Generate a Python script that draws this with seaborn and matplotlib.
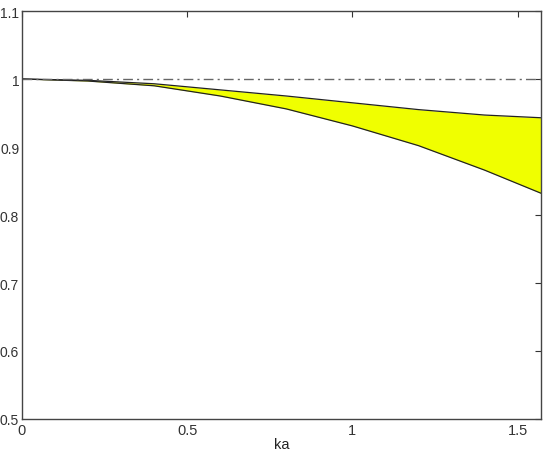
import numpy as np
import pandas as pd
import matplotlib
matplotlib.use("Agg")
import matplotlib.pyplot as plt
import seaborn as sns

# values
ka = [0.0, 0.2, 0.4, 0.6, 0.8, 1.0, 1.2, 1.4, np.pi / 2]
upper = [1.000, 0.998, 0.993, 0.984, 0.975, 0.965, 0.955, 0.947, 0.943]
lower = [1.000, 0.997, 0.990, 0.975, 0.956, 0.931, 0.902, 0.866, 0.832]
ref_level = [1.0, 1.0]
xticks = [0, 0.5, 1, 1.5]
yticks = [0.5, 0.6, 0.7, 0.8, 0.9, 1.0, 1.1]
yticklabels = ["0.5", "0.6", "0.7", "0.8", "0.9", "1", "1.1"]

sns.set_style("white")
plt.rcParams["font.family"] = ["Liberation Sans", "DejaVu Sans"]

df = pd.DataFrame({"ka": ka, "upper": upper, "lower": lower})

fig = plt.figure(figsize=(5.45, 4.56), dpi=100)
ax = fig.add_axes([22 / 545, 36 / 456, 519 / 545, 408 / 456])

ax.fill_between(df["ka"], df["lower"], df["upper"], color="#f0ff00", lw=0)
sns.lineplot(data=df, x="ka", y="upper", color="#222222", lw=0.9, ax=ax)
sns.lineplot(data=df, x="ka", y="lower", color="#222222", lw=0.9, ax=ax)
ax.plot([0, np.pi / 2], ref_level, color="#666666", lw=1.0, ls=(0, (7, 3, 1.5, 3)))

ax.set_xlim(0, np.pi / 2)
ax.set_ylim(0.5, 1.1)
ax.set_xticks(xticks)
ax.set_xticklabels(["0", "0.5", "1", "1.5"])
ax.set_yticks(yticks)
ax.set_yticklabels(yticklabels)
ax.tick_params(direction="in", length=4, width=0.8, labelsize=10,
               top=True, right=True, colors="#333333", pad=2)
ax.tick_params(axis="x", labelsize=10.5, pad=3)
for s in ax.spines.values():
    s.set_color("#444444")
    s.set_linewidth(1.0)
ax.set_xlabel("ka", fontsize=10.5, labelpad=0, color="#222222")
ax.set_ylabel("")

fig.savefig("out.png", dpi=100)
